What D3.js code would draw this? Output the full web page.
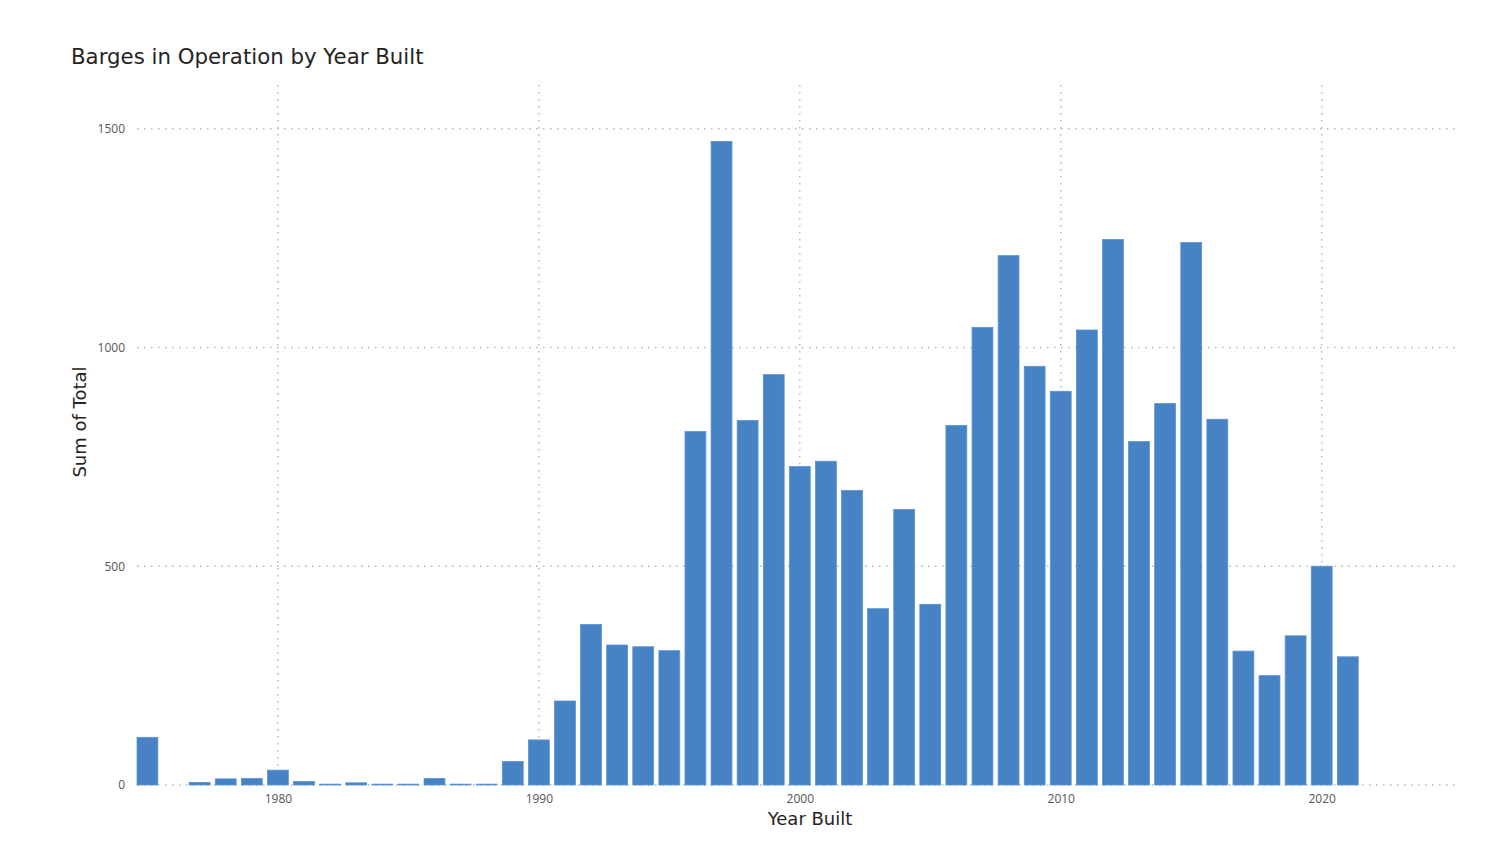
<!DOCTYPE html>
<html>
<head>
<meta charset="utf-8">
<script src="https://cdn.jsdelivr.net/npm/d3@7"></script>
<style>
  html, body { margin: 0; padding: 0; background: #fff; }
  svg { display: block; }
</style>
</head>
<body>
<svg id="chart" width="1500" height="868"></svg>
<script>
const years = [1975, 1977, 1978, 1979, 1980, 1981, 1982, 1983, 1984, 1985, 1986, 1987, 1988, 1989,
  1990, 1991, 1992, 1993, 1994, 1995, 1996, 1997, 1998, 1999, 2000, 2001, 2002, 2003, 2004, 2005,
  2006, 2007, 2008, 2009, 2010, 2011, 2012, 2013, 2014, 2015, 2016, 2017, 2018, 2019, 2020, 2021];
const totals = [109, 6, 14, 15, 34, 8, 2, 5, 2, 2, 15, 2, 2, 54,
  103, 192, 367, 320, 316, 307, 808, 1471, 833, 938, 728, 740, 673, 403, 630, 413,
  822, 1046, 1210, 957, 900, 1040, 1247, 785, 872, 1240, 836, 306, 250, 341, 500, 293];
const xTicks = [1980, 1990, 2000, 2010, 2020];
const yTicks = [0, 500, 1000, 1500];
const title = "Barges in Operation by Year Built";
const xTitle = "Year Built";
const yTitle = "Sum of Total";

const data = years.map((y, i) => ({ year: y, total: totals[i] }));

const svg = d3.select("#chart");
const mLeft = 137, mRight = 1460, mTop = 85, mBottom = 785;
const font = "'Open Sans', 'Segoe UI', sans-serif";
const titleFont = "'DejaVu Sans', sans-serif";

const x = d3.scaleLinear().domain([1974.6, 2025.3]).range([mLeft, mRight]);
const y = d3.scaleLinear().domain([0, 1600]).range([mBottom, mTop]);
const step = x(1) - x(0);
const bw = step * 0.8;

// gridlines
const grid = svg.append("g");
grid.selectAll("line.h").data(yTicks).join("line")
  .attr("class", "h")
  .attr("x1", mLeft).attr("x2", mRight)
  .attr("y1", d => y(d)).attr("y2", d => y(d))
  .attr("stroke", "#b8b8b8").attr("stroke-width", 1.5)
  .attr("stroke-dasharray", "1.5,5.5");
grid.selectAll("line.v").data(xTicks).join("line")
  .attr("class", "v")
  .attr("x1", d => x(d)).attr("x2", d => x(d))
  .attr("y1", mTop).attr("y2", mBottom)
  .attr("stroke", "#b8b8b8").attr("stroke-width", 1.5)
  .attr("stroke-dasharray", "1.5,5.5");

// bars
svg.append("g").selectAll("rect").data(data).join("rect")
  .attr("x", d => x(d.year) - bw / 2)
  .attr("width", bw)
  .attr("y", d => y(d.total))
  .attr("height", d => y(0) - y(d.total))
  .attr("fill", "#4682c4")
  .attr("stroke", "#5b93d0")
  .attr("stroke-width", 0.8);

// axes
const xAxis = svg.append("g").attr("transform", `translate(0,${mBottom})`)
  .call(d3.axisBottom(x).tickValues(xTicks).tickFormat(d3.format("d")).tickSize(0).tickPadding(9));
const yAxis = svg.append("g").attr("transform", `translate(${mLeft},0)`)
  .call(d3.axisLeft(y).tickValues(yTicks).tickFormat(d3.format("d")).tickSize(0).tickPadding(12));
[xAxis, yAxis].forEach(a => {
  a.select(".domain").remove();
  a.selectAll("text").attr("font-family", font).attr("font-size", 12).attr("fill", "#555");
});

// titles
svg.append("text").attr("x", 71).attr("y", 64)
  .attr("font-family", titleFont).attr("font-size", 21.3).attr("fill", "#252423")
  .text(title);
svg.append("text").attr("x", 810).attr("y", 825).attr("text-anchor", "middle")
  .attr("font-family", titleFont).attr("font-size", 18).attr("fill", "#252423")
  .text(xTitle);
svg.append("text").attr("transform", "translate(86,422) rotate(-90)").attr("text-anchor", "middle")
  .attr("font-family", titleFont).attr("font-size", 18).attr("fill", "#252423")
  .text(yTitle);
</script>
</body>
</html>
